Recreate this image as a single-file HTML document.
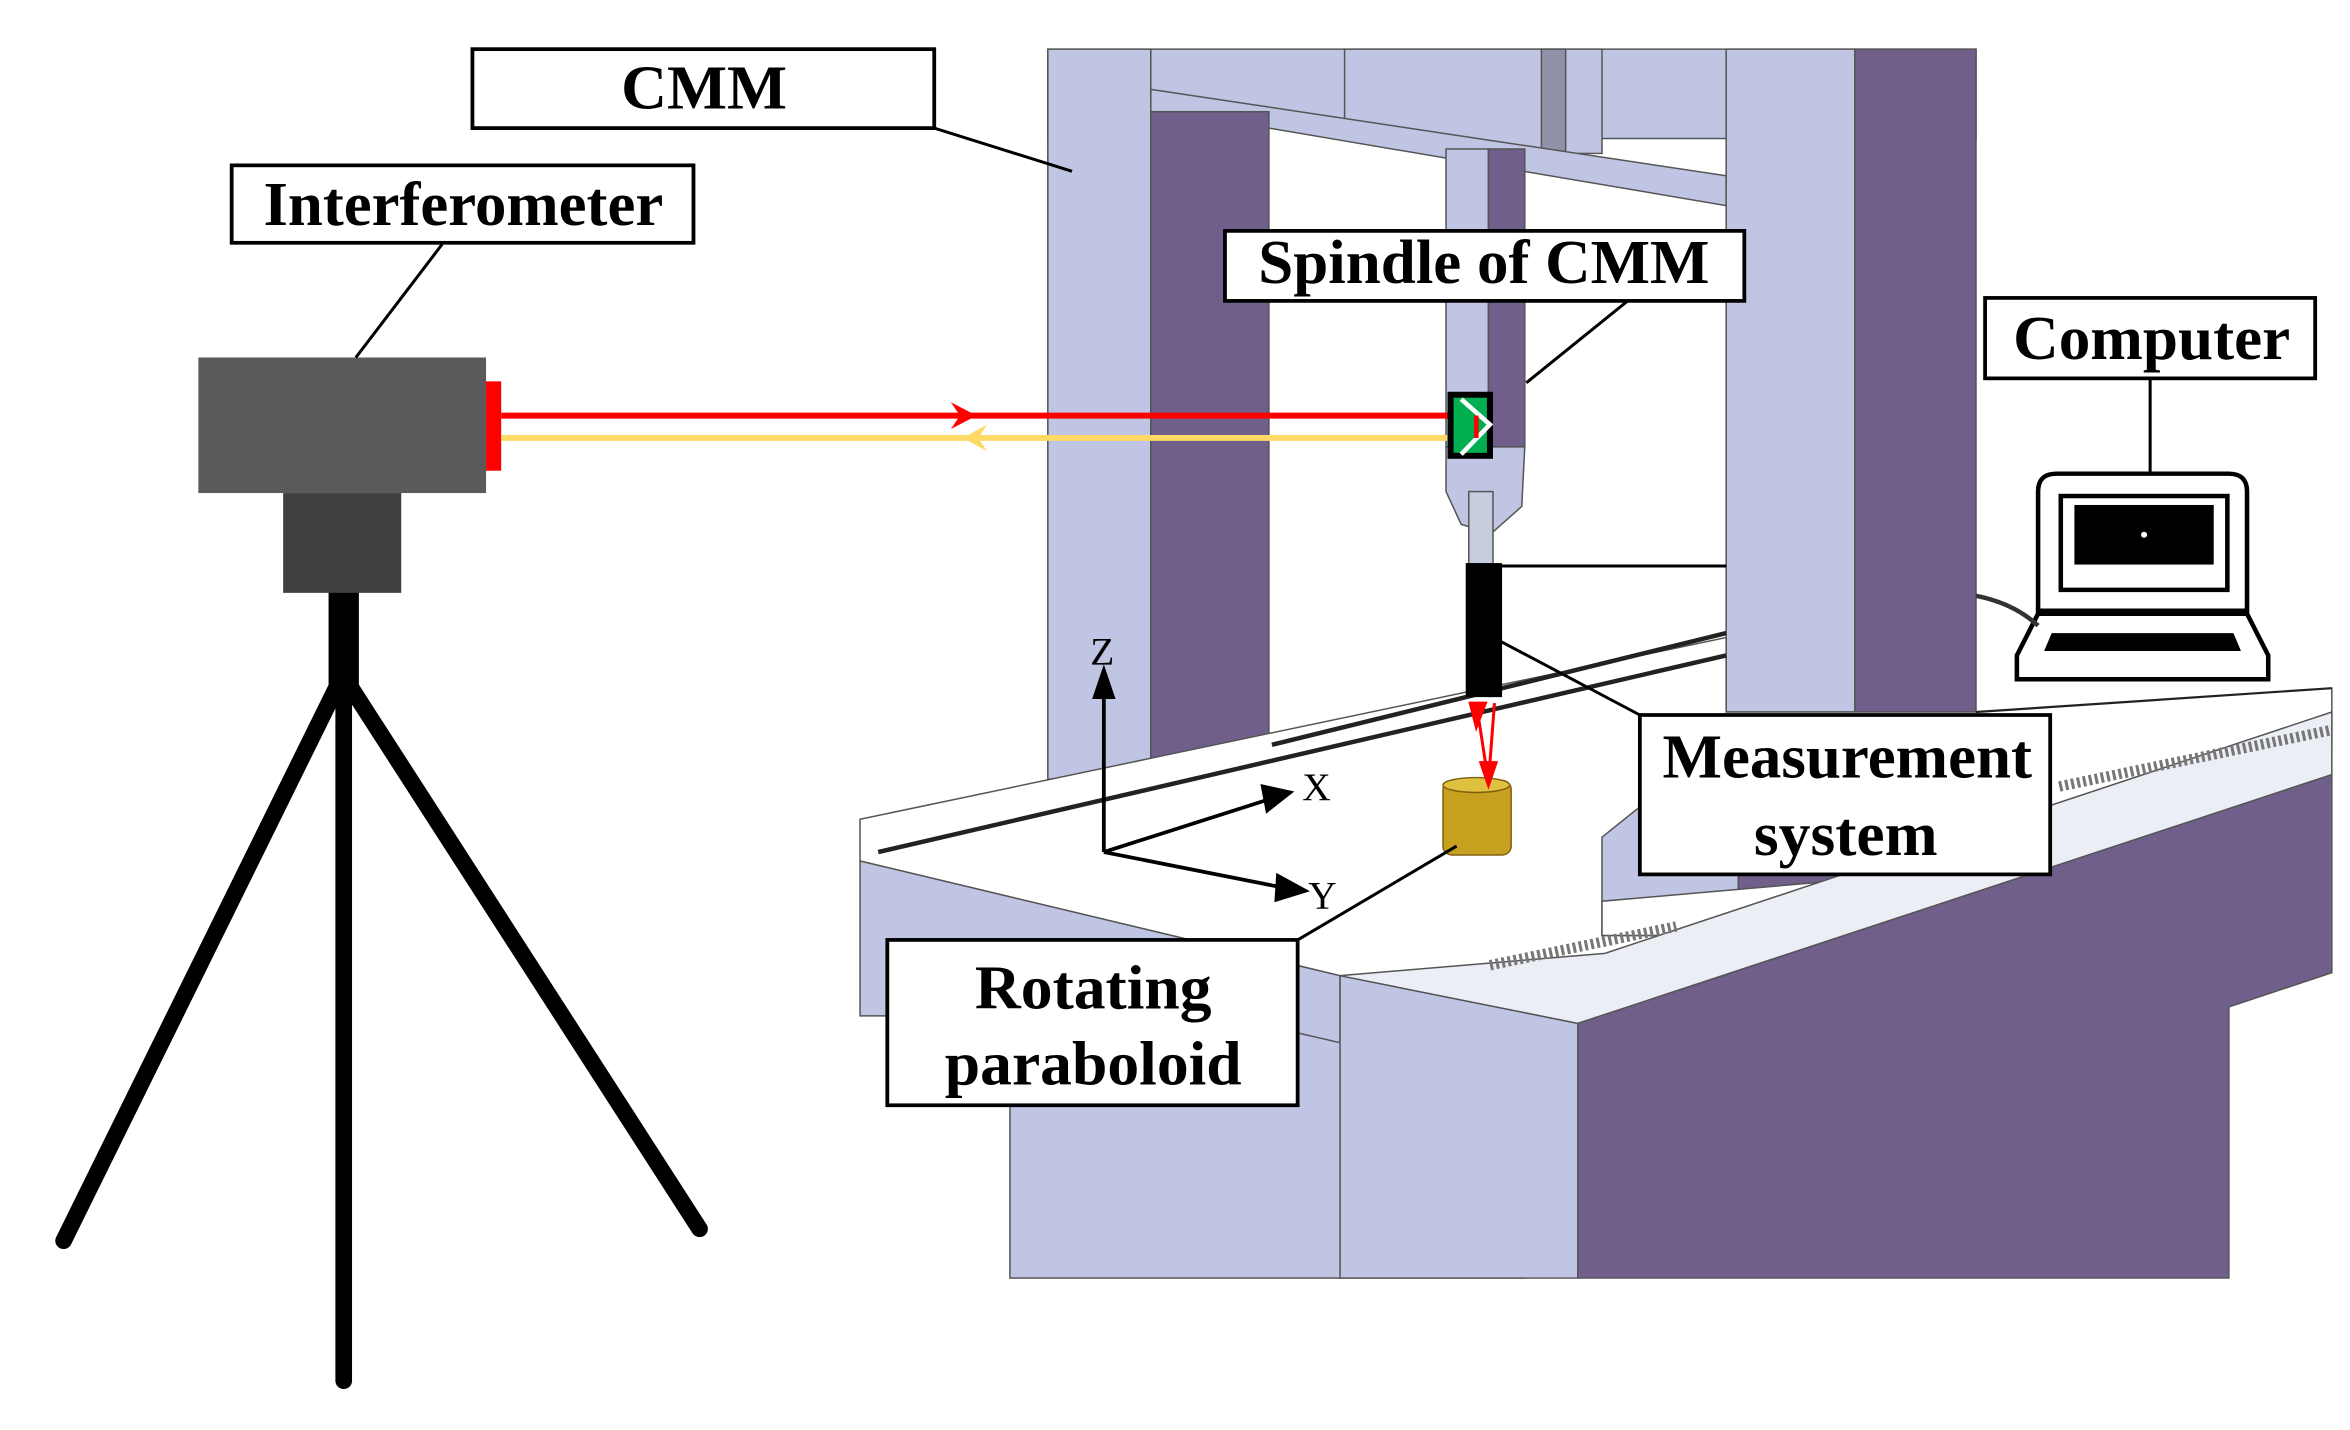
<!DOCTYPE html>
<html><head><meta charset="utf-8"><style>
html,body{margin:0;padding:0;background:#fff;}
svg{display:block;}
text{font-family:"Liberation Serif",serif;}
.lb{font-weight:bold;font-size:42px;fill:#000;}
</style></head><body>
<svg width="2350" height="1430" viewBox="0 0 1552 960" preserveAspectRatio="none" xmlns="http://www.w3.org/2000/svg">
<rect width="1552" height="960" fill="#fff"/>
<g stroke="#555" stroke-width="1">
<rect x="692" y="33" width="613" height="60" fill="#c0c5e3"/>
<rect x="888" y="33" width="170" height="70" fill="#c0c5e3"/>
<rect x="1018" y="33" width="16" height="70" fill="#8f92a8"/>
<polygon points="838,82 1140,135 1140,470 838,500" fill="#fff" stroke="none"/>
<polygon points="760,60 1140,118 1140,138 838,86 760,78" fill="#c0c5e3"/>
<rect x="692" y="33" width="68" height="490" fill="#c0c5e3"/>
<rect x="760" y="75" width="78" height="440" fill="#6f5f8a"/>
<rect x="1140" y="33" width="85" height="445" fill="#c0c5e3"/>
<rect x="1225" y="33" width="80" height="445" fill="#6f5f8a"/>
<rect x="955" y="100" width="28" height="200" fill="#c0c5e3"/>
<rect x="983" y="100" width="24" height="200" fill="#6f5f8a"/>
<path d="M955,300 L1007,300 L1005,340 L985,358 L965,352 L955,330 Z" fill="#c0c5e3"/>
<rect x="970" y="330" width="16" height="50" fill="#c8ccdf"/>
<rect x="667" y="640" width="340" height="218" fill="#c0c5e3"/>
<polygon points="568,550 1140,428 1140,478 1305,478 1540,462 1540,478 1526,552 1042,687 885,655 568,578" fill="#fff"/>
<polygon points="568,578 885,655 885,700 672,650 672,682 568,682" fill="#c0c5e3"/>
<polygon points="1058,562 1085,540 1148,540 1148,628 1058,628" fill="#c0c5e3"/>
<rect x="1148" y="480" width="80" height="150" fill="#6f5f8a"/>
<polygon points="1058,628 1228,628 1305,600 1540,500 1540,478 1305,560 1228,590 1058,605" fill="#fff"/>
<polygon points="885,655 1042,687 1042,858 885,858" fill="#c0c5e3"/>
<polygon points="1042,687 1540,520 1540,653 1472,676 1472,858 1042,858" fill="#6f5f8a"/>
<polygon points="885,655 1060,640 1540,478 1540,520 1042,687" fill="#eceef6"/>
</g>
<g stroke="#222" stroke-width="3" fill="none">
<line x1="580" y1="572" x2="1140" y2="440"/>
<line x1="840" y1="500" x2="1140" y2="425"/>
<line x1="1305" y1="478" x2="1540" y2="462" stroke-width="1.5"/>
</g>
<g stroke="#777" stroke-width="7" fill="none" stroke-dasharray="2 2">
<line x1="984" y1="648" x2="1107" y2="622"/>
<line x1="1360" y1="528" x2="1540" y2="490"/>
</g>
<rect x="968" y="378" width="24" height="90" fill="#000"/>
<line x1="990" y1="380" x2="1140" y2="380" stroke="#000" stroke-width="2"/>
<rect x="953" y="524" width="45" height="50" rx="6" fill="#c8a020" stroke="#806010"/>
<ellipse cx="975" cy="527" rx="22" ry="5" fill="#e0c040" stroke="#806010"/>
<g stroke="#f00" stroke-width="2" fill="#f00">
<line x1="975" y1="472" x2="983" y2="525"/>
<line x1="987" y1="472" x2="983" y2="525"/>
<polygon points="971,472 981,472 975,488"/>
<polygon points="978,512 988,512 983,527"/>
</g>
<g stroke="#000" stroke-linecap="round" fill="none">
<line x1="227" y1="398" x2="227" y2="465" stroke-width="20"/>
<line x1="222" y1="462" x2="42" y2="833" stroke-width="11"/>
<line x1="227" y1="462" x2="227" y2="927" stroke-width="11"/>
<line x1="232" y1="462" x2="462" y2="825" stroke-width="11"/>
</g>
<rect x="131" y="240" width="190" height="91" fill="#5a5a5a"/>
<rect x="187" y="331" width="78" height="67" fill="#404040"/>
<rect x="321" y="256" width="10" height="60" fill="#f00"/>
<line x1="331" y1="279" x2="975" y2="279" stroke="#f00" stroke-width="4"/>
<line x1="331" y1="294" x2="975" y2="294" stroke="#ffd966" stroke-width="4"/>
<polygon points="628,270 645,279 628,288 634,279" fill="#f00"/>
<polygon points="652,285 636,294 652,303 646,294" fill="#ffd966"/>
<rect x="956" y="263" width="30" height="45" fill="#000"/>
<rect x="960" y="267" width="22" height="37" fill="#00b050"/>
<polyline points="965,268 984,285 965,305" fill="none" stroke="#fff" stroke-width="3"/>
<line x1="975" y1="279" x2="975" y2="294" stroke="#f00" stroke-width="3"/>
<g stroke="#000" stroke-width="3" fill="#fff">
<path d="M1358,318 L1472,318 Q1484,318 1484,330 L1484,410 L1346,410 L1346,330 Q1346,318 1358,318 Z"/>
<rect x="1361" y="333" width="110" height="63"/>
<polygon points="1346,412 1484,412 1498,440 1498,456 1332,456 1332,440"/>
</g>
<rect x="1370" y="339" width="92" height="40" fill="#000"/>
<circle cx="1416" cy="359" r="2" fill="#fff"/>
<polygon points="1355,425 1475,425 1480,437 1350,437" fill="#000"/>
<path d="M1305,400 Q1330,405 1346,420" stroke="#333" stroke-width="3" fill="none"/>
<g stroke="#000" stroke-width="2">
<line x1="617" y1="86" x2="708" y2="115"/>
<line x1="292" y1="164" x2="235" y2="240"/>
<line x1="1075" y1="202" x2="1008" y2="257"/>
<line x1="1420" y1="254" x2="1420" y2="318"/>
<line x1="1083" y1="480" x2="990" y2="430"/>
<line x1="857" y1="631" x2="962" y2="568"/>
</g>
<g stroke="#000" stroke-width="2.5" fill="#000">
<line x1="729" y1="572" x2="729" y2="462"/>
<polygon points="723,468 729,450 735,468"/>
<line x1="729" y1="572" x2="840" y2="536"/>
<polygon points="834,528 852,532 837,544"/>
<line x1="729" y1="572" x2="848" y2="596"/>
<polygon points="844,588 862,598 843,604"/>
</g>
<g font-size="26" fill="#000">
<text x="720" y="446" font-family="Liberation Serif">Z</text>
<text x="860" y="537" font-family="Liberation Serif">X</text>
<text x="864" y="610" font-family="Liberation Serif">Y</text>
</g>
<g fill="#fff" stroke="#000" stroke-width="2.5">
<rect x="312" y="33" width="305" height="53"/>
<rect x="153" y="111" width="305" height="52"/>
<rect x="809" y="155" width="343" height="47"/>
<rect x="1311" y="200" width="218" height="54"/>
<rect x="1083" y="480" width="271" height="107"/>
<rect x="586" y="631" width="271" height="111"/>
</g>
<text class="lb" x="465" y="73" text-anchor="middle">CMM</text>
<text class="lb" x="306" y="151" text-anchor="middle" textLength="264" lengthAdjust="spacingAndGlyphs">Interferometer</text>
<text class="lb" x="980" y="190" text-anchor="middle" textLength="298" lengthAdjust="spacingAndGlyphs">Spindle of CMM</text>
<text class="lb" x="1421" y="241" text-anchor="middle" textLength="183" lengthAdjust="spacingAndGlyphs">Computer</text>
<text class="lb" x="1220" y="522" text-anchor="middle" textLength="244" lengthAdjust="spacingAndGlyphs">Measurement</text>
<text class="lb" x="1219" y="574" text-anchor="middle">system</text>
<text class="lb" x="722" y="677" text-anchor="middle">Rotating</text>
<text class="lb" x="722" y="728" text-anchor="middle">paraboloid</text>
</svg>
</body></html>
